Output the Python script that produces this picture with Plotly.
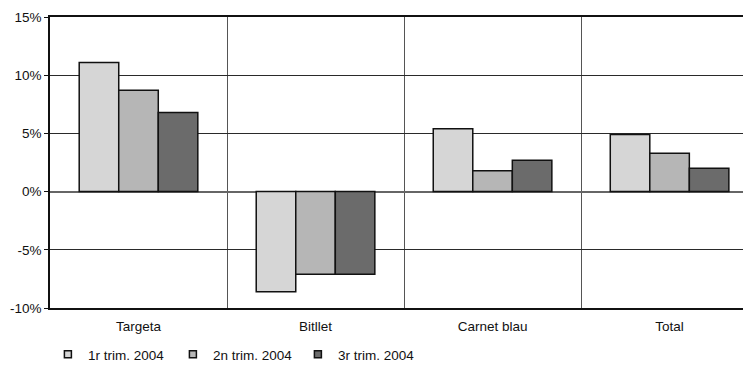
import plotly.graph_objects as go

categories = ["Targeta", "Bitllet", "Carnet blau", "Total"]
series_names = ["1r trim. 2004", "2n trim. 2004", "3r trim. 2004"]
t1 = [11.1, -8.6, 5.4, 4.9]
t2 = [8.7, -7.1, 1.8, 3.3]
t3 = [6.8, -7.1, 2.7, 2.0]
colors = ["#d6d6d6", "#b6b6b6", "#6b6b6b"]
y_ticks = [-10, -5, 0, 5, 10, 15]
y_ticktext = ["-10%", "-5%", "0%", "5%", "10%", "15%"]

fig = go.Figure()
for name, vals, col in zip(series_names, [t1, t2, t3], colors):
    fig.add_trace(go.Bar(
        x=categories, y=vals, name=name, showlegend=False,
        marker=dict(color=col, line=dict(color="#111111", width=1.5)),
    ))
# small square legend keys, like the original
for name, col in zip(series_names, colors):
    fig.add_trace(go.Scatter(
        x=[None], y=[None], mode="markers", name=name,
        marker=dict(symbol="square", size=7, color=col, line=dict(color="#111111", width=1.5)),
    ))

# page body has an 8px margin, so the figure is a bit smaller than the window
fig.update_layout(
    width=743, height=362,
    margin=dict(l=42, r=0, t=9, b=62),
    paper_bgcolor="white", plot_bgcolor="white",
    font=dict(family="Liberation Sans, Arial, sans-serif", size=13.5, color="#111111"),
    barmode="group", bargap=0.33, bargroupgap=0,
    showlegend=True,
    legend=dict(orientation="h", x=-0.003, xanchor="left", yref="container", y=-0.011, yanchor="bottom",
                font=dict(size=13.5), itemwidth=30, entrywidth=80, tracegroupgap=0),
)
fig.update_xaxes(
    type="category", range=[-0.5, 3.46], automargin=False,
    tickson="boundaries", ticks="", showgrid=True, gridcolor="#555555", gridwidth=1,
    showline=True, linecolor="#111111", linewidth=1.5, mirror=True,
    ticklabelstandoff=5,
)
fig.update_yaxes(
    range=[-10, 15], tickvals=y_ticks, ticktext=y_ticktext, automargin=False,
    ticks="outside", ticklen=4, tickcolor="#111111",
    showgrid=True, gridcolor="#2a2a2a", gridwidth=1,
    zeroline=True, zerolinecolor="#666666", zerolinewidth=1.5,
    showline=True, linecolor="#111111", linewidth=1.5,
)

fig.write_html("out.html")
